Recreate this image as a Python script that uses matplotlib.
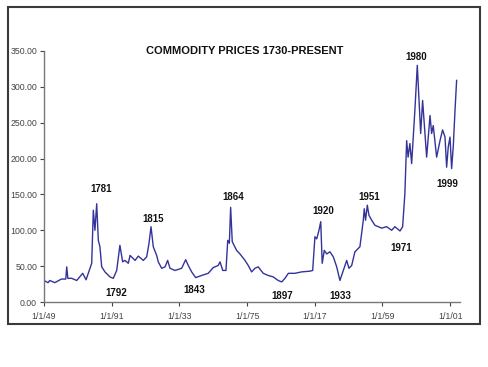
import matplotlib
matplotlib.use("Agg")
import matplotlib.pyplot as plt
from matplotlib.patches import Rectangle

# commodity price index (year, value)
years = [1749.0, 1751.5, 1752.6, 1755.7, 1759.8, 1762.5, 1763.1, 1763.8, 1766.2, 1769.3,
         1773.0, 1775.1,
         1777.1, 1778.6, 1779.6, 1780.6, 1781.7, 1782.7, 1783.7, 1784.8, 1786.8, 1789.9,
         1792.0, 1794.1, 1796.1, 1797.8, 1799.2, 1801.3, 1802.4, 1805.5, 1807.5, 1810.6,
         1812.7, 1814.1, 1815.4, 1816.8, 1818.9, 1819.9, 1822.0, 1824.1, 1825.7, 1827.2,
         1830.3, 1834.4, 1836.9, 1838.5, 1840.6, 1843.1, 1846.8, 1850.9, 1854.0, 1857.1,
         1858.2, 1859.9, 1861.9, 1863.0, 1864.0, 1864.8, 1865.8, 1866.9, 1868.5, 1870.6,
         1873.7, 1875.7, 1877.8, 1879.9, 1881.9, 1885.0, 1888.1, 1891.2, 1894.3, 1896.5,
         1898.5, 1900.6, 1904.7, 1908.9, 1914.0, 1915.7, 1917.1, 1918.2, 1919.6, 1920.7,
         1921.6, 1922.9, 1924.4, 1926.4, 1928.5, 1930.6, 1932.6, 1934.7, 1936.8, 1938.2,
         1939.9, 1941.9, 1945.0, 1947.1, 1947.7, 1948.5, 1949.6, 1950.6, 1952.3, 1954.3,
         1956.4, 1958.5, 1961.6, 1964.7, 1966.7, 1969.9, 1971.5, 1972.9, 1974.0, 1974.9,
         1976.0, 1977.1, 1978.1, 1979.1, 1980.6, 1981.8, 1982.7, 1983.9, 1984.9, 1986.4,
         1988.5, 1989.5, 1990.5, 1992.6, 1994.7, 1996.3, 1997.8, 1998.8, 1999.8, 2000.9,
         2001.9, 2002.9, 2004.0, 2005.0]
prices = [30, 27, 30, 27, 32, 32, 49, 33, 33, 30,
          40, 31,
          44, 54, 128, 100, 137, 86, 77, 49, 42, 35,
          33, 44, 79, 56, 58, 54, 65, 58, 64, 58,
          63, 81, 105, 77, 65, 56, 47, 49, 58, 47,
          44, 47, 59, 51, 42, 34, 37, 40, 48, 51,
          56, 44, 44, 86, 82, 132, 84, 79, 72, 67,
          58, 51, 42, 47, 49, 40, 37, 35, 30, 28,
          33, 40, 40, 42, 43, 44, 91, 88, 100, 112,
          54, 72, 67, 70, 63, 49, 30, 44, 58, 47,
          51, 70, 77, 114, 130, 114, 135, 121, 114, 107,
          105, 103, 105, 100, 105, 99, 105, 151, 225, 202,
          221, 193, 230, 267, 330, 277, 235, 281, 249, 202,
          260, 235, 246, 202, 225, 240, 230, 188, 216, 230,
          186, 216, 267, 309]

# annotations: label, x (year), y (value)
note_labels = ["1781", "1792", "1815", "1843", "1864", "1897",
               "1920", "1933", "1951", "1971", "1980", "1999"]
note_x = [1784.2, 1794.1, 1816.6, 1842.1, 1866.6, 1896.9,
          1922.3, 1933.1, 1950.9, 1970.7, 1979.8, 1999.3]
note_y = [158, 12, 116, 17, 146, 8, 127, 9, 146, 75, 342, 165]

tick_years = [1749, 1791, 1833, 1875, 1917, 1959, 2001]
tick_labels = ["1/1/49", "1/1/91", "1/1/33", "1/1/75", "1/1/17", "1/1/59", "1/1/01"]
y_ticks = [0, 50, 100, 150, 200, 250, 300, 350]

plt.rcParams['font.family'] = ['Liberation Sans', 'DejaVu Sans']

W, H = 489, 367
fig = plt.figure(figsize=(W / 100, H / 100), dpi=100)
ax = fig.add_axes([44 / W, 1 - 302 / H, 416 / W, 251 / H])

ax.plot(years, prices, color='#33339a', lw=1.0)

ax.set_xlim(1749, 2007.1)
ax.set_ylim(0, 350)
ax.set_xticks(tick_years)
ax.set_xticklabels(tick_labels)
ax.set_yticks(y_ticks)
ax.set_yticklabels([f"{v:.2f}" for v in y_ticks])
ax.tick_params(labelsize=6.3, colors='#444444', length=3, width=0.8, pad=2)
ax.tick_params(axis='x', pad=4)

for s in ['top', 'right']:
    ax.spines[s].set_visible(False)
for s in ['left', 'bottom']:
    ax.spines[s].set_color('#777777')
    ax.spines[s].set_linewidth(1.0)

for lab, x, y in zip(note_labels, note_x, note_y):
    ax.text(x, y, lab, ha='center', va='center', fontsize=7, fontweight='bold',
            color='#111111')

fig.text(245 / W, 1 - 51 / H, "COMMODITY PRICES 1730-PRESENT", ha='center',
         va='center', fontsize=8, fontweight='bold', color='#111111')

# outer frame around the chart
fig.patches.append(Rectangle((8 / W, 1 - 324 / H), 472 / W, 317 / H,
                             transform=fig.transFigure, fill=False,
                             edgecolor='#3a3a3a', lw=1.5))

fig.savefig("out.png", dpi=100)
